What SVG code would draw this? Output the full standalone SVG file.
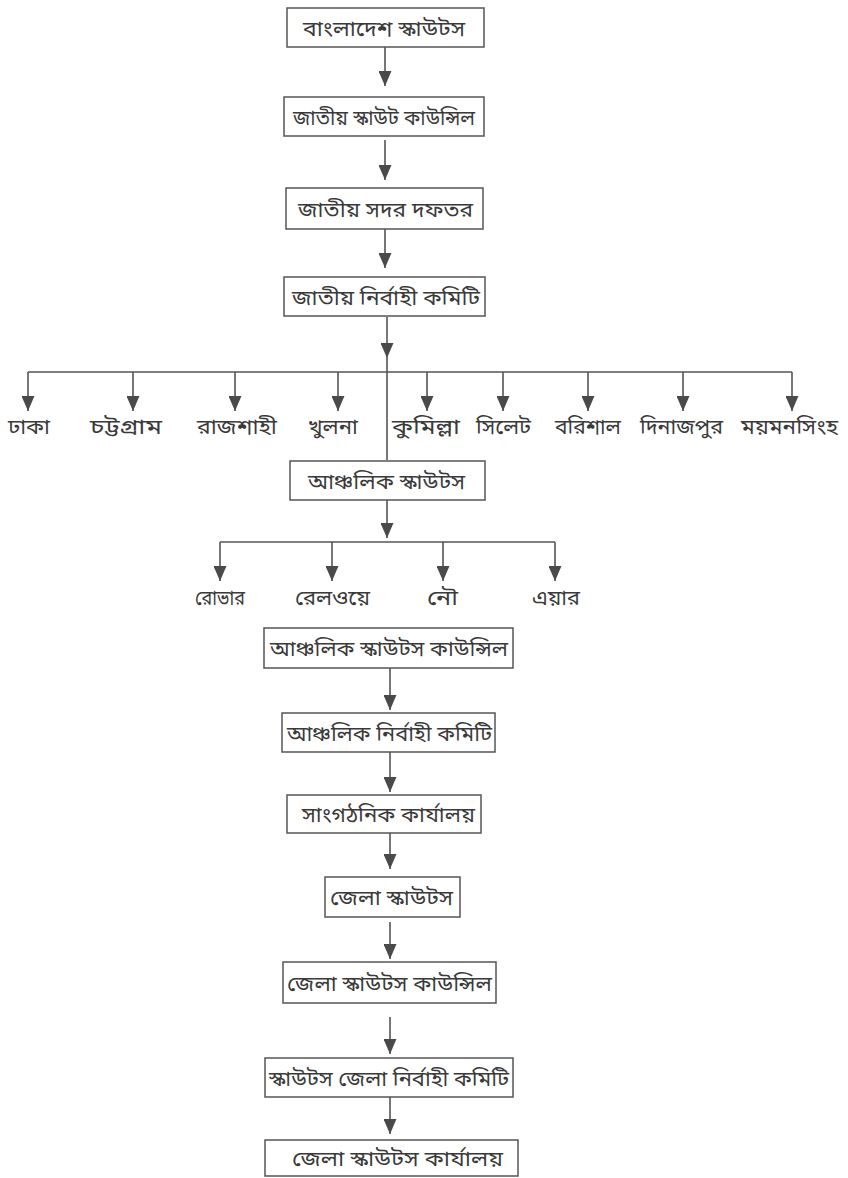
<svg xmlns="http://www.w3.org/2000/svg" width="848" height="1178" viewBox="0 0 848 1178">
<defs>
<marker id="ah" viewBox="0 0 15 13" refX="15" refY="6.5" markerWidth="15" markerHeight="13" markerUnits="userSpaceOnUse" orient="auto">
<path d="M0,0 L15,6.5 L0,13 z" fill="#4a4a4a"/>
</marker>
<style>
.box rect{fill:#fff;stroke:#555;stroke-width:1.5}
text{font-family:"Noto Sans","Noto Sans Bengali","DejaVu Sans",sans-serif;font-size:21px;fill:#3a3a3a;text-anchor:middle;dominant-baseline:central}
#connectors line{stroke:#555;stroke-width:1.6;fill:none}
.arr{marker-end:url(#ah)}
</style>
</defs>
<rect width="848" height="1178" fill="#fff"/>
<g id="connectors">
<line class="arr" x1="385" y1="47" x2="385" y2="86"/>
<line class="arr" x1="385" y1="140" x2="385" y2="180"/>
<line class="arr" x1="385" y1="229" x2="385" y2="268"/>
<line class="arr" x1="387" y1="317" x2="387" y2="358"/>
<line x1="387" y1="358" x2="387" y2="460"/>
<line x1="28" y1="372" x2="792" y2="372"/>
<line class="arr" x1="28" y1="372" x2="28" y2="411"/>
<line class="arr" x1="133" y1="372" x2="133" y2="411"/>
<line class="arr" x1="235" y1="372" x2="235" y2="411"/>
<line class="arr" x1="338" y1="372" x2="338" y2="411"/>
<line class="arr" x1="427" y1="372" x2="427" y2="411"/>
<line class="arr" x1="503" y1="372" x2="503" y2="411"/>
<line class="arr" x1="588" y1="372" x2="588" y2="411"/>
<line class="arr" x1="683" y1="372" x2="683" y2="411"/>
<line class="arr" x1="792" y1="372" x2="792" y2="411"/>
<line class="arr" x1="387" y1="500" x2="387" y2="538"/>
<line x1="220" y1="542" x2="555" y2="542"/>
<line class="arr" x1="220" y1="542" x2="220" y2="581"/>
<line class="arr" x1="332" y1="542" x2="332" y2="581"/>
<line class="arr" x1="443" y1="542" x2="443" y2="581"/>
<line class="arr" x1="555" y1="542" x2="555" y2="581"/>
<line class="arr" x1="390" y1="668" x2="390" y2="710"/>
<line class="arr" x1="390" y1="752" x2="390" y2="792"/>
<line class="arr" x1="390" y1="833" x2="390" y2="869"/>
<line class="arr" x1="390" y1="922" x2="390" y2="959"/>
<line class="arr" x1="390" y1="1017" x2="390" y2="1054"/>
<line class="arr" x1="390" y1="1097" x2="390" y2="1134"/>
</g>
<g id="n1" class="box"><rect x="287" y="8" width="197" height="39"/><text x="384" y="27.5" textLength="162" lengthAdjust="spacingAndGlyphs">বাংলাদেশ স্কাউটস</text></g>
<g id="n2" class="box"><rect x="284" y="97" width="200" height="39"/><text x="384" y="116.5" textLength="182" lengthAdjust="spacingAndGlyphs">জাতীয় স্কাউট কাউন্সিল</text></g>
<g id="n3" class="box"><rect x="286" y="188" width="197" height="41"/><text x="385.5" y="208.5" textLength="175" lengthAdjust="spacingAndGlyphs">জাতীয় সদর দফতর</text></g>
<g id="n4" class="box"><rect x="284" y="277" width="201" height="39"/><text x="386" y="296.5" textLength="188" lengthAdjust="spacingAndGlyphs">জাতীয় নির্বাহী কমিটি</text></g>
<g id="b1"><text x="29" y="426" textLength="42" lengthAdjust="spacingAndGlyphs">ঢাকা</text></g>
<g id="b2"><text x="126" y="426" textLength="72" lengthAdjust="spacingAndGlyphs">চট্টগ্রাম</text></g>
<g id="b3"><text x="237" y="426" textLength="80" lengthAdjust="spacingAndGlyphs">রাজশাহী</text></g>
<g id="b4"><text x="333" y="426" textLength="50" lengthAdjust="spacingAndGlyphs">খুলনা</text></g>
<g id="b5"><text x="426" y="426" textLength="68" lengthAdjust="spacingAndGlyphs">কুমিল্লা</text></g>
<g id="b6"><text x="503.5" y="426" textLength="55" lengthAdjust="spacingAndGlyphs">সিলেট</text></g>
<g id="b7"><text x="588" y="426" textLength="66" lengthAdjust="spacingAndGlyphs">বরিশাল</text></g>
<g id="b8"><text x="681.5" y="426" textLength="83" lengthAdjust="spacingAndGlyphs">দিনাজপুর</text></g>
<g id="b9"><text x="789.5" y="426" textLength="97" lengthAdjust="spacingAndGlyphs">ময়মনসিংহ</text></g>
<g id="n5" class="box"><rect x="290" y="461" width="195" height="39"/><text x="386.5" y="480.5" textLength="157" lengthAdjust="spacingAndGlyphs">আঞ্চলিক স্কাউটস</text></g>
<g id="c1"><text x="220" y="597" textLength="50" lengthAdjust="spacingAndGlyphs">রোভার</text></g>
<g id="c2"><text x="332.5" y="597" textLength="75" lengthAdjust="spacingAndGlyphs">রেলওয়ে</text></g>
<g id="c3"><text x="442.5" y="597" textLength="31" lengthAdjust="spacingAndGlyphs">নৌ</text></g>
<g id="c4"><text x="556" y="597" textLength="48" lengthAdjust="spacingAndGlyphs">এয়ার</text></g>
<g id="n6" class="box"><rect x="264" y="628" width="249" height="40"/><text x="389" y="648" textLength="238" lengthAdjust="spacingAndGlyphs">আঞ্চলিক স্কাউটস কাউন্সিল</text></g>
<g id="n7" class="box"><rect x="282" y="713" width="213" height="39"/><text x="389.5" y="732.5" textLength="205" lengthAdjust="spacingAndGlyphs">আঞ্চলিক নির্বাহী কমিটি</text></g>
<g id="n8" class="box"><rect x="287" y="795" width="194" height="38"/><text x="388.5" y="814" textLength="173" lengthAdjust="spacingAndGlyphs">সাংগঠনিক কার্যালয়</text></g>
<g id="n9" class="box"><rect x="325" y="877" width="135" height="40"/><text x="391.5" y="897" textLength="123" lengthAdjust="spacingAndGlyphs">জেলা স্কাউটস</text></g>
<g id="n10" class="box"><rect x="283" y="962" width="213" height="41"/><text x="389.5" y="982.5" textLength="205" lengthAdjust="spacingAndGlyphs">জেলা স্কাউটস কাউন্সিল</text></g>
<g id="n11" class="box"><rect x="265" y="1058" width="248" height="39"/><text x="389" y="1077.5" textLength="240" lengthAdjust="spacingAndGlyphs">স্কাউটস জেলা নির্বাহী কমিটি</text></g>
<g id="n12" class="box"><rect x="265" y="1140" width="253" height="36"/><text x="397.5" y="1158" textLength="211" lengthAdjust="spacingAndGlyphs">জেলা স্কাউটস কার্যালয়</text></g>
</svg>
